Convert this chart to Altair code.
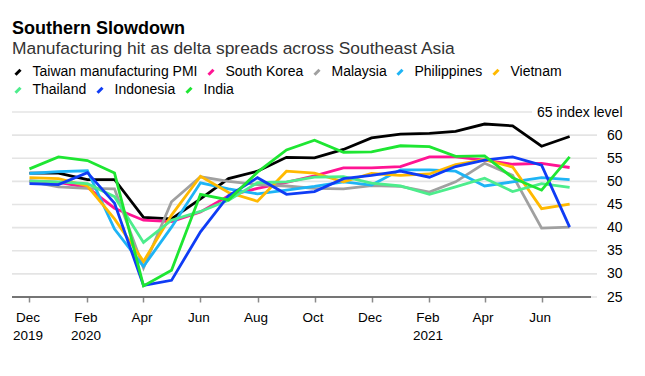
import altair as alt
import pandas as pd

months = ["2019-12-01", "2020-01-01", "2020-02-01", "2020-03-01", "2020-04-01",
          "2020-05-01", "2020-06-01", "2020-07-01", "2020-08-01", "2020-09-01",
          "2020-10-01", "2020-11-01", "2020-12-01", "2021-01-01", "2021-02-01",
          "2021-03-01", "2021-04-01", "2021-05-01", "2021-06-01", "2021-07-01"]

taiwan = [51.8, 51.8, 50.4, 50.4, 42.2, 41.9, 46.2, 50.6, 52.2, 55.2,
          55.1, 56.9, 59.4, 60.2, 60.4, 60.8, 62.4, 62.0, 57.6, 59.7]
south_korea = [50.1, 49.8, 48.7, 44.2, 41.6, 41.3, 43.4, 46.9, 48.5, 49.8,
               51.2, 52.9, 52.9, 53.2, 55.3, 55.3, 54.6, 53.7, 53.9, 53.0]
malaysia = [50.0, 48.8, 48.5, 48.4, 31.3, 45.6, 51.0, 50.0, 49.3, 49.0,
            48.5, 48.4, 49.1, 48.9, 47.7, 49.9, 53.9, 51.3, 39.9, 40.1]
philippines = [51.7, 52.1, 52.3, 39.7, 31.6, 40.1, 49.7, 48.4, 47.3, 48.1,
               48.9, 49.9, 49.2, 52.5, 52.5, 52.2, 49.0, 49.9, 50.8, 50.4]
vietnam = [50.8, 50.6, 49.0, 41.9, 32.7, 42.7, 51.1, 47.6, 45.7, 52.2,
           51.8, 49.9, 51.7, 51.3, 51.6, 53.6, 54.7, 53.1, 44.1, 45.1]
thailand = [50.1, 49.9, 49.5, 46.7, 36.8, 41.6, 43.5, 45.9, 49.7, 49.9,
            50.9, 51.0, 49.6, 49.0, 47.2, 48.8, 50.7, 47.8, 49.5, 48.7]
indonesia = [49.5, 49.3, 51.9, 45.3, 27.5, 28.6, 39.1, 46.9, 50.8, 47.2,
             47.8, 50.6, 51.3, 52.2, 50.9, 53.2, 54.6, 55.3, 53.5, 40.1]
india = [52.7, 55.3, 54.5, 51.8, 27.4, 30.8, 47.2, 46.0, 52.0, 56.8,
         58.9, 56.3, 56.4, 57.7, 57.5, 55.4, 55.5, 50.8, 48.1, 55.3]

series_names = ["Taiwan manufacturing PMI", "South Korea", "Malaysia", "Philippines",
                "Vietnam", "Thailand", "Indonesia", "India"]
series_values = [taiwan, south_korea, malaysia, philippines, vietnam, thailand, indonesia, india]
series_colors = ["#000000", "#ff1493", "#a0a0a0", "#1eb4f5", "#ffb900", "#4ded8c", "#0f3cf5", "#1ee632"]

y_ticks = [25, 30, 35, 40, 45, 50, 55, 60, 65]
grid_full = [25, 30, 35, 40, 45, 50, 55, 60]
grid_short = [65]
tick_months = [(2019, 12), (2020, 2), (2020, 4), (2020, 6), (2020, 8), (2020, 10),
               (2020, 12), (2021, 2), (2021, 4), (2021, 6)]

rows = []
for order, (name, vals) in enumerate(zip(series_names, series_values)):
    for m, v in zip(months, vals):
        rows.append({"date": m, "value": v, "series": name, "order": order})
df = pd.DataFrame(rows)
row1_names, row2_names = series_names[:5], series_names[5:]
row1_colors, row2_colors = series_colors[:5], series_colors[5:]
df1 = df[df["series"].isin(row1_names)]
df2 = df[df["series"].isin(row2_names)]

W, H = 585, 185
FONT = "Liberation Sans"

x_scale = alt.Scale(type="utc",
                    domain=[alt.DateTime(year=2019, month=11, date=12, hours=7, utc=True),
                            alt.DateTime(year=2021, month=7, date=30, hours=7, utc=True)])
y_scale = alt.Scale(domain=[25, 65], nice=False, zero=False)

y_axis = alt.Axis(
    orient="right", values=y_ticks, domain=False, ticks=False, tickSize=0, grid=False,
    labelFont=FONT, labelFontSize=14, labelColor="#000000",
    labelAlign="right", labelPadding=25, labelBaseline="middle",
    labelExpr="datum.value == 65 ? '65 index level' : datum.label", title=None)

grid = alt.Chart(pd.DataFrame({"v": grid_full})).mark_rule(color="#e4e4e4", strokeWidth=1.6).encode(
    y=alt.Y("v:Q", scale=y_scale, axis=y_axis),
    x=alt.value(0), x2=alt.value(W))
grid65 = alt.Chart(pd.DataFrame({"v": grid_short})).mark_rule(color="#e4e4e4", strokeWidth=1.6).encode(
    y=alt.Y("v:Q", scale=y_scale, axis=y_axis),
    x=alt.value(0), x2=alt.value(520))
baseline = alt.Chart(pd.DataFrame({"v": [25]})).mark_rule(color="#000000", strokeWidth=1.2).encode(
    y=alt.Y("v:Q", scale=y_scale, axis=y_axis),
    x=alt.value(0), x2=alt.value(579))

x_axis = alt.Axis(
    values=[alt.DateTime(year=yy, month=mm, date=1, utc=True) for yy, mm in tick_months],
    domain=False, grid=False, ticks=True, tickColor="#8a8a8a", tickSize=5, tickWidth=1.5,
    labelFont=FONT, labelFontSize=13.5, labelColor="#000000", labelPadding=8,
    labelLineHeight=18, labelOffset=-2, labelBaseline="top",
    labelExpr="[utcFormat(datum.value, '%b'), (utcmonth(datum.value) == 1 || (utcmonth(datum.value) == 11 && utcyear(datum.value) == 2019)) ? utcFormat(datum.value, '%Y') : '']",
    title=None)


def legend(y):
    return alt.Legend(
        orient="none", legendX=-1, legendY=y, direction="horizontal",
        title=None, padding=0,
        symbolType="M-0.5,0.5L0.5,-0.5", symbolSize=100,
        symbolStrokeWidth=3, labelFont=FONT, labelFontSize=14,
        labelColor="#000000", labelOffset=7.5, labelLimit=0,
        columnPadding=4)


lines1 = alt.Chart(df1).mark_line(strokeWidth=2.8, strokeJoin="miter").encode(
    x=alt.X("date:T", scale=x_scale, axis=x_axis),
    y=alt.Y("value:Q", scale=y_scale, axis=y_axis),
    color=alt.Color("series:N", scale=alt.Scale(domain=row1_names, range=row1_colors),
                    legend=legend(-47)),
    order=alt.Order("order:Q"),
)
lines2 = alt.Chart(df2).mark_line(strokeWidth=2.8, strokeJoin="miter").encode(
    x=alt.X("date:T", scale=x_scale, axis=x_axis),
    y=alt.Y("value:Q", scale=y_scale, axis=y_axis),
    color=alt.Color("series:N", scale=alt.Scale(domain=row2_names, range=row2_colors),
                    legend=legend(-29)),
    order=alt.Order("order:Q"),
)

chart = alt.layer(grid, grid65, baseline, lines1, lines2).properties(
    width=W, height=H,
    autosize=alt.AutoSizeParams(type="none"),
    padding={"left": 4, "top": 104, "right": 40, "bottom": 50},
    title=alt.TitleParams(
        text="Southern Slowdown",
        subtitle="Manufacturing hit as delta spreads across Southeast Asia",
        anchor="start", frame="group", font=FONT, fontSize=18, fontWeight="bold",
        color="#000000", subtitleFont=FONT, subtitleFontSize=17.4, subtitleColor="#333333",
        subtitlePadding=2, offset=8),
).configure_view(stroke=None).resolve_scale(y="shared", color="independent")

chart.save("out.html", embed_options={"renderer": "svg", "actions": False})
